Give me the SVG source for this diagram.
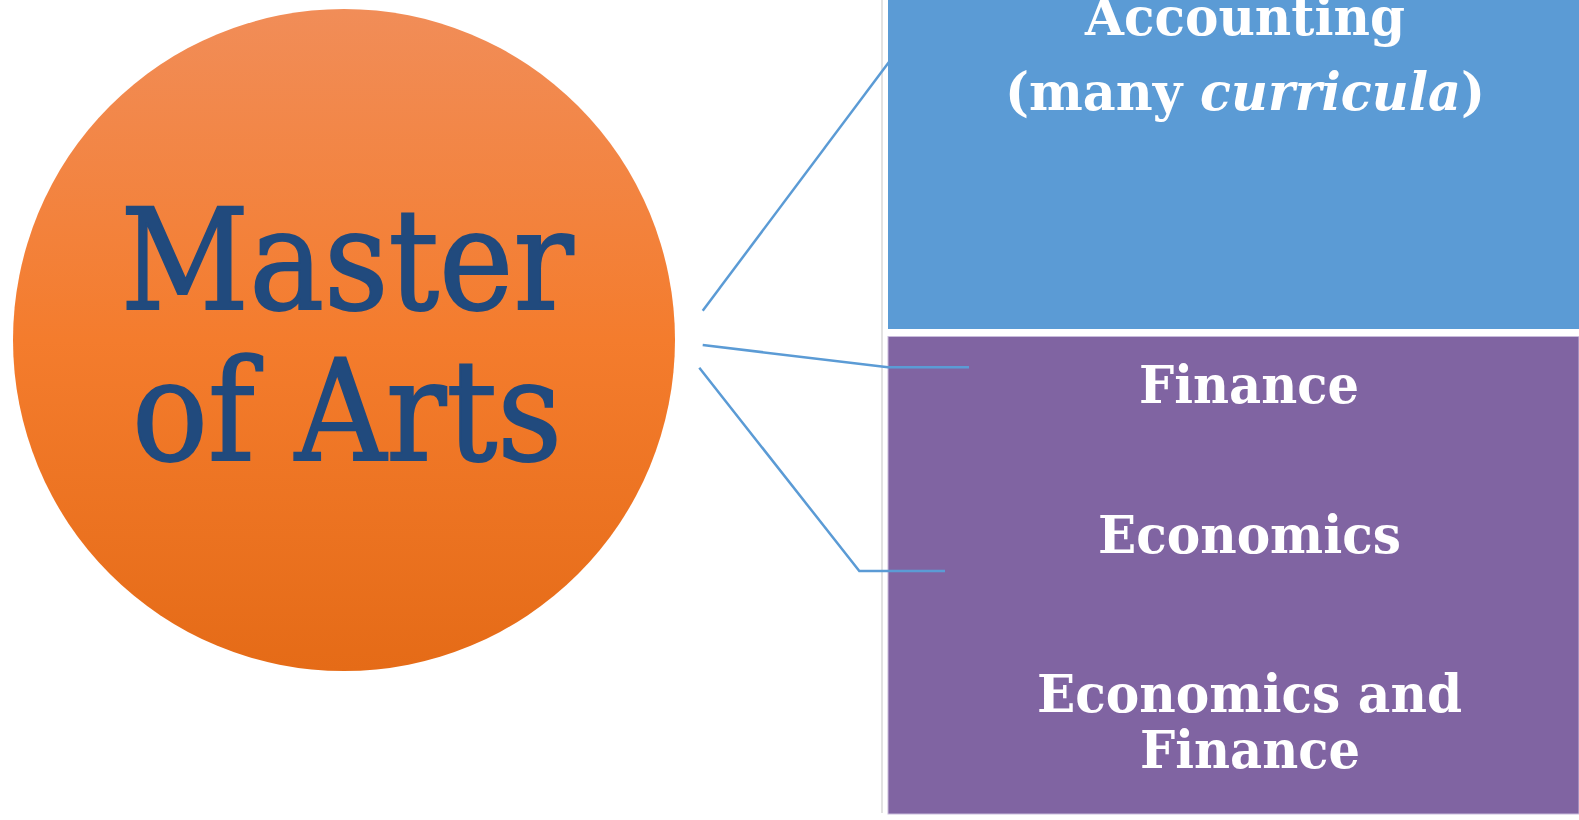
<svg xmlns="http://www.w3.org/2000/svg" width="1579" height="820" viewBox="0 0 1579 820">
<defs>
<linearGradient id="orange" x1="0" y1="0" x2="0" y2="1">
<stop offset="0" stop-color="#F18D58"/>
<stop offset="0.5" stop-color="#F47C2D"/>
<stop offset="1" stop-color="#E56B17"/>
</linearGradient>
</defs>
<style>
.main{font-family:"DejaVu Serif","Liberation Serif",serif;font-size:140px;fill:#214A7D;stroke:#214A7D;stroke-width:2;text-anchor:middle}
.lbl{font-family:"DejaVu Serif","Liberation Serif",serif;font-weight:bold;font-size:52px;fill:#FFFFFF;text-anchor:middle}
.conn{fill:none;stroke:#5B9BD5;stroke-width:2.5}
</style>
<rect width="1579" height="820" fill="#FFFFFF"/>
<line x1="882" y1="0" x2="882" y2="813" stroke="#D9D9D9" stroke-width="1.5"/>
<g id="master">
<circle cx="344" cy="340" r="331" fill="url(#orange)"/>
<text class="main" x="347" y="309" textLength="453" lengthAdjust="spacingAndGlyphs">Master</text>
<text class="main" x="347" y="460" textLength="430" lengthAdjust="spacingAndGlyphs">of Arts</text>
</g>
<g id="accounting">
<rect x="888" y="0" width="691" height="329" fill="#5B9BD5"/>
<text class="lbl" x="1245" y="35" textLength="320" lengthAdjust="spacingAndGlyphs">Accounting</text>
<text class="lbl" x="1245" y="110" textLength="480" lengthAdjust="spacingAndGlyphs">(many <tspan font-style="italic">curricula</tspan>)</text>
</g>
<g id="finance-group">
<rect x="888" y="336.5" width="691" height="477.5" fill="#8064A2" stroke="#C9BCDC" stroke-width="1"/>
<text class="lbl" x="1249" y="403" textLength="220" lengthAdjust="spacingAndGlyphs">Finance</text>
<text class="lbl" x="1249.5" y="553" textLength="303" lengthAdjust="spacingAndGlyphs">Economics</text>
<text class="lbl" x="1249.5" y="712" textLength="425" lengthAdjust="spacingAndGlyphs">Economics and</text>
<text class="lbl" x="1250" y="768" textLength="220" lengthAdjust="spacingAndGlyphs">Finance</text>
</g>
<g id="connectors">
<path class="conn" d="M702.7,310.7 L889,62"/>
<path class="conn" d="M702.7,345 L888,367.3 L969,367.3"/>
<path class="conn" d="M699.3,367.7 L859.3,571 L945,571"/>
</g>
</svg>
